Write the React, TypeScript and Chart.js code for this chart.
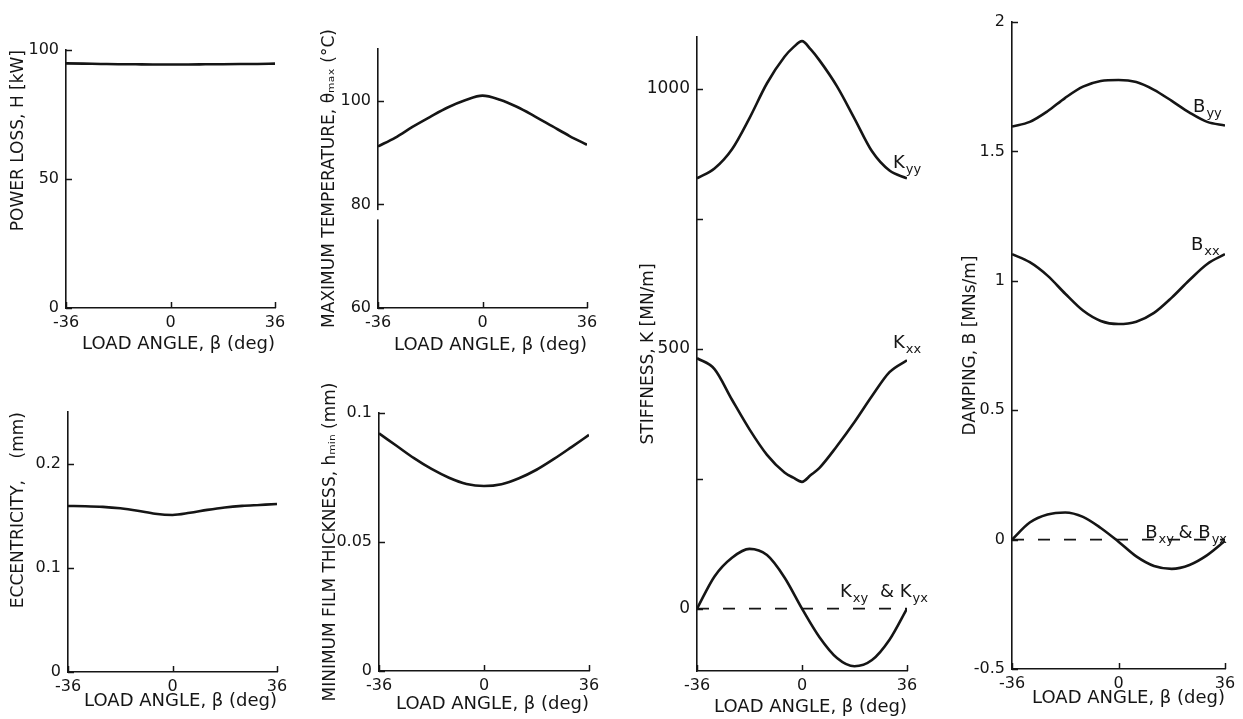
import React, { useEffect, useRef } from "react";
import { Chart, registerables } from "chart.js";

Chart.register(...registerables);

// ---------------- data ----------------
const ANGLES = [-36, -30, -24, -18, -12, -6, 0, 6, 12, 18, 24, 30, 36];
const ANGLES_K = [-36, -30, -24, -18, -12, -6, -3, 0, 3, 6, 12, 18, 24, 30, 36];
const ZERO_X = [-36, 36];
const ZERO_Y = [0, 0];
const X_TICKS = [-36, 0, 36];

const POWER_LOSS = [94.8, 94.7, 94.6, 94.5, 94.45, 94.4, 94.4, 94.4, 94.45, 94.5, 94.55, 94.6, 94.7];
const MAX_TEMP = [91.2, 92.9, 95.0, 96.9, 98.7, 100.1, 101.0, 100.2, 98.8, 97.0, 95.1, 93.2, 91.5];
const ECCENTRICITY = [0.1596, 0.1594, 0.1588, 0.1574, 0.1551, 0.1522, 0.151, 0.1531, 0.1559, 0.1582, 0.1597, 0.1606, 0.1615];
const FILM_THICKNESS = [0.0921, 0.0873, 0.0825, 0.0783, 0.0749, 0.0725, 0.0717, 0.0724, 0.0747, 0.078, 0.0822, 0.0868, 0.0915];

const K_YY = [828, 847, 884, 944, 1011, 1062, 1080, 1092, 1076, 1055, 1005, 943, 880, 843, 828];
const K_XX = [482, 461, 402, 345, 296, 262, 252, 244, 257, 271, 313, 359, 409, 455, 478];
const K_XY = [0, 62, 98, 115, 103, 60, 0, -55, -95, -111, -99, -60, 0];

const B_YY = [1.596, 1.614, 1.655, 1.707, 1.75, 1.772, 1.776, 1.768, 1.738, 1.695, 1.65, 1.614, 1.6];
const B_XX = [1.103, 1.072, 1.02, 0.95, 0.885, 0.845, 0.833, 0.842, 0.876, 0.935, 1.003, 1.065, 1.103];
const B_XY = [0, 0.066, 0.097, 0.105, 0.088, 0.045, -0.008, -0.065, -0.102, -0.113, -0.098, -0.06, -0.005];

const POWER_TICKS = [0, 50, 100];
const TEMP_TICKS = [60, 80, 100];
const ECC_TICKS = [0, 0.1, 0.2];
const FILM_TICKS = [0, 0.05, 0.1];
const STIFF_TICKS = [0, 250, 500, 750, 1000];
const STIFF_LABELLED = [0, 500, 1000];
const DAMP_TICKS = [-0.5, 0, 0.5, 1, 1.5, 2];

const X_TITLE = "LOAD ANGLE, β (deg)";

// ---------------- styling / layout ----------------
const FONT = "'DejaVu Sans', 'Noto Sans', sans-serif";
const INK = "#151515";
const Y_TITLE_SIZE = 17;
const X_TITLE_SIZE = 18;
const PAD_TOP = 30;
const PAD_RIGHT = 34;

type Series = { x: number[]; y: number[]; dashed?: boolean };
type LabelPart = [string, boolean];
type Label = { x: number; y: number; parts: LabelPart[] };
type Panel = {
  key: string;
  area: [number, number, number, number];
  yMin: number;
  yMax: number;
  yTicks: number[];
  yLabelled?: number[];
  tickSize: number;
  yTitle: string;
  yTitleAlign: "start" | "center" | "end";
  yTitleX: number;
  xTitleY: number;
  series: Series[];
  labels: Label[];
  gap?: [number, number];
};

const PANELS: Panel[] = [
  {
    key: "power",
    area: [66, 50, 275, 308],
    yMin: 0,
    yMax: 100,
    yTicks: POWER_TICKS,
    tickSize: 16,
    yTitle: "POWER LOSS, H [kW]",
    yTitleAlign: "end",
    yTitleX: 18,
    xTitleY: 344,
    series: [{ x: ANGLES, y: POWER_LOSS }],
    labels: [],
  },
  {
    key: "temp",
    area: [378, 49, 587, 308],
    yMin: 60,
    yMax: 110,
    yTicks: TEMP_TICKS,
    tickSize: 16,
    yTitle: "MAXIMUM TEMPERATURE, θₘₐₓ (°C)",
    yTitleAlign: "center",
    yTitleX: 329,
    xTitleY: 345,
    series: [{ x: ANGLES, y: MAX_TEMP }],
    labels: [],
    gap: [77.1, 78.9],
  },
  {
    key: "ecc",
    area: [68, 412, 277, 672],
    yMin: 0,
    yMax: 0.25,
    yTicks: ECC_TICKS,
    tickSize: 16,
    yTitle: "ECCENTRICITY,    (mm)",
    yTitleAlign: "end",
    yTitleX: 18,
    xTitleY: 701,
    series: [{ x: ANGLES, y: ECCENTRICITY }],
    labels: [],
  },
  {
    key: "film",
    area: [379, 413, 589, 671],
    yMin: 0,
    yMax: 0.1,
    yTicks: FILM_TICKS,
    tickSize: 16,
    yTitle: "MINIMUM FILM THICKNESS, hₘᵢₙ (mm)",
    yTitleAlign: "center",
    yTitleX: 330,
    xTitleY: 704,
    series: [{ x: ANGLES, y: FILM_THICKNESS }],
    labels: [],
  },
  {
    key: "stiff",
    area: [697, 37, 907, 671],
    yMin: -120,
    yMax: 1100,
    yTicks: STIFF_TICKS,
    yLabelled: STIFF_LABELLED,
    tickSize: 17,
    yTitle: "STIFFNESS, K [MN/m]",
    yTitleAlign: "center",
    yTitleX: 648,
    xTitleY: 707,
    series: [
      { x: ANGLES_K, y: K_YY },
      { x: ANGLES_K, y: K_XX },
      { x: ANGLES, y: K_XY },
      { x: ZERO_X, y: ZERO_Y, dashed: true },
    ],
    labels: [
      { x: 31.2, y: 848, parts: [["K", false], ["yy", true]] },
      { x: 31.2, y: 501, parts: [["K", false], ["xx", true]] },
      { x: 13.0, y: 22, parts: [["K", false], ["xy", true]] },
      { x: 26.7, y: 22, parts: [["& K", false], ["yx", true]] },
    ],
  },
  {
    key: "damp",
    area: [1012, 22, 1225, 669],
    yMin: -0.5,
    yMax: 2,
    yTicks: DAMP_TICKS,
    tickSize: 16,
    yTitle: "DAMPING, B [MNs/m]",
    yTitleAlign: "center",
    yTitleX: 970,
    xTitleY: 698,
    series: [
      { x: ANGLES, y: B_YY },
      { x: ANGLES, y: B_XX },
      { x: ANGLES, y: B_XY },
      { x: ZERO_X, y: ZERO_Y, dashed: true },
    ],
    labels: [
      { x: 25.2, y: 1.652, parts: [["B", false], ["yy", true]] },
      { x: 24.5, y: 1.119, parts: [["B", false], ["xx", true]] },
      { x: 9.0, y: 0.006, parts: [["B", false], ["xy", true]] },
      { x: 20.3, y: 0.006, parts: [["& B", false], ["yx", true]] },
    ],
  },
];

function geometry(p: Panel) {
  const [L, T, R, B] = p.area;
  const left = Math.round(p.yTitleX - (Y_TITLE_SIZE * 1.2) / 2);
  const top = T - PAD_TOP;
  const yW = L - left;
  const xH = Math.round(p.xTitleY + (X_TITLE_SIZE * 1.2) / 2 - B);
  const width = R + PAD_RIGHT - left;
  const height = B + xH - top;
  return { left, top, yW, xH, width, height };
}

function PanelChart({ p }: { p: Panel }) {
  const ref = useRef<HTMLCanvasElement | null>(null);
  const g = geometry(p);

  useEffect(() => {
    if (!ref.current) return;

    const decorations = {
      id: "decor-" + p.key,
      afterDraw(chart: any) {
        const ctx = chart.ctx as CanvasRenderingContext2D;
        const xs = chart.scales.x;
        const ys = chart.scales.y;
        const { left, bottom } = chart.chartArea;
        ctx.save();
        ctx.strokeStyle = INK;
        ctx.lineWidth = 1.5;
        // inward tick marks
        p.yTicks.forEach((v) => {
          const y = Math.round(ys.getPixelForValue(v)) + 0.5;
          ctx.beginPath();
          ctx.moveTo(left, y);
          ctx.lineTo(left + 6, y);
          ctx.stroke();
        });
        X_TICKS.forEach((v) => {
          const x = Math.round(xs.getPixelForValue(v)) + 0.5;
          ctx.beginPath();
          ctx.moveTo(x, bottom);
          ctx.lineTo(x, bottom - 6);
          ctx.stroke();
        });
        // broken axis
        if (p.gap) {
          const y1 = ys.getPixelForValue(p.gap[1]);
          const y2 = ys.getPixelForValue(p.gap[0]);
          ctx.fillStyle = "#ffffff";
          ctx.fillRect(left - 4, y1, 8, y2 - y1);
        }
        // curve labels with subscripts
        ctx.fillStyle = INK;
        ctx.textBaseline = "alphabetic";
        ctx.textAlign = "left";
        p.labels.forEach((lab) => {
          let x = xs.getPixelForValue(lab.x);
          const y = ys.getPixelForValue(lab.y);
          lab.parts.forEach(([t, sub]) => {
            ctx.font = sub ? `13px ${FONT}` : `18px ${FONT}`;
            ctx.fillText(t, x, sub ? y + 5 : y);
            x += ctx.measureText(t).width + 1;
          });
        });
        ctx.restore();
      },
    };

    const chart = new Chart(ref.current, {
      type: "line",
      data: {
        datasets: p.series.map((s) => ({
          data: s.x.map((x, i) => ({ x, y: s.y[i] })),
          borderColor: INK,
          borderWidth: s.dashed ? 1.6 : 2.6,
          borderDash: s.dashed ? [12, 14] : [],
          pointRadius: 0,
          pointHoverRadius: 0,
          cubicInterpolationMode: "monotone",
          fill: false,
        })),
      },
      options: {
        responsive: false,
        animation: false,
        devicePixelRatio: 1,
        events: [],
        layout: { padding: { left: 0, top: PAD_TOP, right: PAD_RIGHT, bottom: 0 } },
        plugins: { legend: { display: false }, tooltip: { enabled: false } },
        scales: {
          x: {
            type: "linear",
            min: -36,
            max: 36,
            grid: { display: false, drawTicks: false },
            border: { display: true, color: INK, width: 1.6 },
            afterBuildTicks: (s: any) => {
              s.ticks = X_TICKS.map((v) => ({ value: v }));
            },
            afterFit: (s: any) => {
              s.height = g.xH;
              s.paddingLeft = 0;
              s.paddingRight = 0;
            },
            ticks: {
              color: INK,
              font: { family: FONT, size: 16 },
              padding: 5,
              autoSkip: false,
              maxRotation: 0,
              callback: (v: any) => String(v),
            },
            title: {
              display: true,
              text: X_TITLE,
              color: INK,
              align: "end",
              font: { family: FONT, size: X_TITLE_SIZE },
              padding: 0,
            },
          },
          y: {
            type: "linear",
            min: p.yMin,
            max: p.yMax,
            grid: { display: false, drawTicks: false },
            border: { display: true, color: INK, width: 1.6 },
            afterBuildTicks: (s: any) => {
              s.ticks = p.yTicks.map((v) => ({ value: v }));
            },
            afterFit: (s: any) => {
              s.width = g.yW;
              s.paddingTop = 0;
              s.paddingBottom = 0;
            },
            ticks: {
              color: INK,
              font: { family: FONT, size: p.tickSize },
              padding: 7,
              autoSkip: false,
              callback: (v: any) =>
                !p.yLabelled || p.yLabelled.includes(Number(v)) ? String(v) : "",
            },
            title: {
              display: true,
              text: p.yTitle,
              color: INK,
              align: p.yTitleAlign,
              font: { family: FONT, size: Y_TITLE_SIZE },
              padding: 0,
            },
          },
        },
      } as any,
      plugins: [decorations],
    });
    return () => chart.destroy();
  }, []);

  return (
    <canvas
      ref={ref}
      width={g.width}
      height={g.height}
      style={{ position: "absolute", left: g.left, top: g.top, width: g.width, height: g.height }}
    />
  );
}

export default function App() {
  return (
    <div
      style={{
        position: "absolute",
        left: 0,
        top: 0,
        width: 1243,
        height: 719,
        background: "#ffffff",
        overflow: "hidden",
      }}
    >
      {PANELS.map((p) => (
        <PanelChart key={p.key} p={p} />
      ))}
    </div>
  );
}
